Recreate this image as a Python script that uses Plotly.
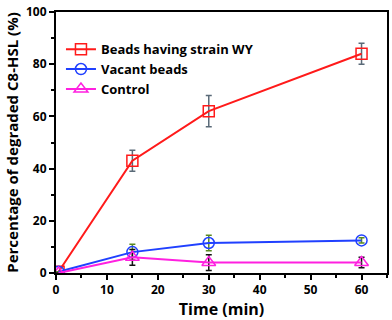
import plotly.graph_objects as go

# data
time_min = [0.5, 15, 30, 60]

strain_y = [0.5, 43, 62, 84]
strain_err = [0, 4, 6, 4]

vacant_y = [0.5, 8, 11.5, 12.5]
vacant_err = [0, 3, 3, 1]

control_y = [0, 6, 4, 4]
control_err = [0, 3, 3, 2]

fig = go.Figure()

fig.add_trace(go.Scatter(
    x=time_min, y=strain_y, name="Beads having strain WY",
    mode="lines+markers",
    line=dict(color="#ff1a1a", width=2),
    marker=dict(symbol="square-open", size=11, color="#ff1a1a", line=dict(width=1.5)),
    error_y=dict(type="data", array=strain_err, color="#5a6a78", thickness=1.5, width=3),
))
fig.add_trace(go.Scatter(
    x=time_min, y=vacant_y, name="Vacant beads",
    mode="lines+markers",
    line=dict(color="#2040ff", width=2),
    marker=dict(symbol="circle-open", size=11, color="#2040ff", line=dict(width=1.5)),
    error_y=dict(type="data", array=vacant_err, color="#5a8a20", thickness=1.5, width=3),
))
fig.add_trace(go.Scatter(
    x=time_min, y=control_y, name="Control",
    mode="lines+markers",
    line=dict(color="#ff20e0", width=2),
    marker=dict(symbol="triangle-up-open", size=12, color="#ff20e0", line=dict(width=1.5)),
    error_y=dict(type="data", array=control_err, color="#111111", thickness=1.5, width=3),
))

axis_common = dict(
    showline=True, linecolor="black", linewidth=2, mirror=True,
    showgrid=False, zeroline=False,
    ticks="outside", ticklen=5, tickwidth=1.5, tickcolor="black",
    ticklabeloverflow="allow",
    tickfont=dict(family="Open Sans", size=12, color="black", weight="bold"),
)

fig.update_xaxes(
    range=[0, 65], tickvals=[0, 10, 20, 30, 40, 50, 60],
    minor=dict(ticks="outside", ticklen=3, tickwidth=1.5, tickcolor="black", dtick=5, tick0=0),
    title=dict(text="Time (min)", font=dict(family="Open Sans", size=16, color="black", weight="bold"), standoff=6),
    **axis_common,
)
fig.update_yaxes(
    range=[0, 100], tickvals=[0, 20, 40, 60, 80, 100],
    minor=dict(ticks="outside", ticklen=3, tickwidth=1.5, tickcolor="black", dtick=10, tick0=0),
    title=dict(text="Percentage of degraded C8-HSL (%)", font=dict(family="Open Sans", size=15, color="black", weight="bold"), standoff=4),
    **axis_common,
)

fig.update_layout(
    width=392, height=320,
    margin=dict(l=56, r=3, t=7, b=47),
    plot_bgcolor="white", paper_bgcolor="white",
    legend=dict(
        x=0.015, y=0.915, xanchor="left", yanchor="top",
        bgcolor="rgba(0,0,0,0)",
        font=dict(family="Open Sans", size=13, color="black", weight="bold"),
        tracegroupgap=0, itemwidth=30,
    ),
)

fig.write_html("out.html", config={"displayModeBar": False},
               post_script="document.body.style.margin='0';")
